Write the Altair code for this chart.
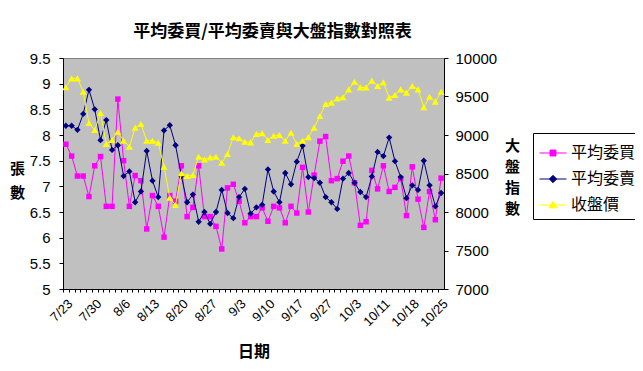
import altair as alt
import pandas as pd

# ---- data ----
dates = [
    "7/23", "7/24", "7/25", "7/26", "7/27",
    "7/30", "7/31", "8/1", "8/2", "8/3",
    "8/6", "8/7", "8/8", "8/9", "8/10",
    "8/13", "8/14", "8/15", "8/16", "8/17",
    "8/20", "8/21", "8/22", "8/23", "8/24",
    "8/27", "8/28", "8/29", "8/30", "8/31",
    "9/3", "9/4", "9/5", "9/6", "9/7",
    "9/10", "9/11", "9/12", "9/13", "9/14",
    "9/17", "9/18", "9/19", "9/20", "9/21",
    "9/27", "9/28", "9/29", "10/1", "10/2",
    "10/3", "10/4", "10/5", "10/8", "10/9",
    "10/11", "10/12", "10/15", "10/16", "10/17",
    "10/18", "10/19", "10/22", "10/23", "10/24",
    "10/25",
]

avg_buy = [
    7.82, 7.59, 7.20, 7.20, 6.80, 7.40, 7.58, 6.61, 6.61, 8.70,
    7.50, 6.61, 7.21, 7.11, 6.17, 6.82, 6.61, 6.01, 6.82, 6.71,
    7.40, 6.41, 6.59, 7.40, 6.41, 6.41, 6.22, 5.78, 6.97, 7.04,
    6.71, 6.29, 6.41, 6.41, 6.58, 6.32, 6.61, 6.58, 6.29, 6.61,
    6.48, 7.37, 6.50, 7.22, 7.88, 7.97, 7.11, 7.15, 7.49, 7.59,
    7.07, 6.24, 6.31, 7.31, 6.95, 7.40, 6.90, 6.98, 7.15, 6.43,
    7.38, 6.75, 6.20, 6.90, 6.35, 7.16,
]

avg_sell = [
    8.18, 8.18, 8.10, 8.41, 8.88, 8.50, 7.90, 8.29, 7.71, 7.80,
    7.20, 7.29, 6.69, 6.90, 7.69, 7.11, 6.79, 8.09, 8.19, 7.80,
    7.20, 6.69, 6.84, 6.31, 6.50, 6.27, 6.50, 6.93, 6.48, 6.38,
    6.79, 6.95, 6.47, 6.59, 6.64, 7.33, 6.90, 6.69, 7.26, 7.04,
    7.48, 7.79, 7.18, 7.16, 7.07, 6.79, 6.69, 6.56, 7.15, 7.26,
    7.07, 6.89, 6.79, 7.19, 7.67, 7.59, 7.95, 7.49, 7.18, 6.77,
    7.02, 6.93, 7.50, 7.02, 6.61, 6.87,
]

close_index = [
    9620, 9736, 9736, 9562, 9156, 9065, 9286, 8883, 8935, 9043,
    8926, 8848, 9095, 9143, 8926, 8926, 8900, 8588, 8186, 8091,
    8503, 8468, 8481, 8718, 8684, 8710, 8718, 8640, 8753, 8970,
    8957, 8913, 8905, 9013, 9022, 8935, 8991, 9000, 8926, 9030,
    8883, 8926, 8970, 9095, 9247, 9403, 9420, 9476, 9490, 9593,
    9692, 9619, 9619, 9706, 9636, 9684, 9485, 9519, 9593, 9550,
    9636, 9593, 9360, 9497, 9433, 9562,
]

series_names = ["平均委買", "平均委賣", "收盤價"]
series_colors = ["#FF00FF", "#000080", "#FFFF00"]
series_shapes = ["square", "diamond", "triangle-up"]
legend_paths = [
    "M-1,0H1M-0.22,-0.22H0.22V0.22H-0.22Z",
    "M-1,0H1M0,-0.27L0.27,0L0,0.27L-0.27,0Z",
    "M-1,0H1M0,-0.27L0.29,0.21L-0.29,0.21Z",
]
left_ticks = [5, 5.5, 6, 6.5, 7, 7.5, 8, 8.5, 9, 9.5]
right_ticks = [7000, 7500, 8000, 8500, 9000, 9500, 10000]

df = pd.DataFrame({"date": dates, "buy": avg_buy, "sell": avg_sell, "close": close_index})

PLOT_W, PLOT_H = 381, 231
step = PLOT_W / len(dates)
shown = dates[::5]
label_expr = "indexof([" + ",".join("'" + d + "'" for d in shown) + "], datum.value) >= 0 ? datum.value : ''"

CJK = "Noto Sans CJK TC"
NUM = "Liberation Sans"

x_enc = alt.X(
    "date:N",
    scale=alt.Scale(type="point", domain=dates, padding=0.5),
    axis=alt.Axis(
        title="日期", labelAngle=-45, labelExpr=label_expr, labelOverlap=False,
        tickSize=3, tickOffset=-step / 2, labelOffset=step / 2,
        domainColor="black", tickColor="black", labelColor="black",
        labelFont=NUM, labelFontSize=13, labelPadding=5,
        titleFont=CJK, titleFontSize=16, titleFontWeight="bold", titleColor="black",
        titleX=PLOT_W / 2, titleY=62, titleBaseline="middle",
    ),
)

y_left = alt.Y(
    "v:Q",
    scale=alt.Scale(domain=[5, 9.5], nice=False, zero=False),
    axis=alt.Axis(
        orient="left", values=left_ticks, format="~g", grid=False,
        tickSize=4, domainColor="black", tickColor="black", labelColor="black",
        labelFont=NUM, labelFontSize=15, labelPadding=9,
        title=["張", "數"], titleAngle=0, titleAlign="center", titleBaseline="middle",
        titleX=-46, titleY=110, titleFont=CJK, titleFontSize=15, titleFontWeight="bold",
        titleColor="black", titleLineHeight=24,
    ),
)

y_right = alt.Y(
    "v:Q",
    scale=alt.Scale(domain=[7000, 10000], nice=False, zero=False),
    axis=alt.Axis(
        orient="right", values=right_ticks, format="d", grid=False,
        tickSize=4, domainColor="black", tickColor="black", labelColor="black",
        labelFont=NUM, labelFontSize=15, labelPadding=7,
        title=["大", "盤", "指", "數"], titleAngle=0, titleAlign="center", titleBaseline="middle",
        titleX=68, titleY=87, titleFont=CJK, titleFontSize=15, titleFontWeight="bold",
        titleColor="black", titleLineHeight=21,
    ),
)

def series_layers(field, color, shape, size, y_enc):
    base = alt.Chart(df).transform_calculate(v="datum." + field)
    line = base.mark_line(color=color, strokeWidth=1).encode(x=x_enc, y=y_enc)
    pts = base.mark_point(filled=True, shape=shape, size=size, color=color, opacity=1).encode(x=x_enc, y=y_enc)
    return [line, pts]

left = alt.layer(
    *series_layers("buy", series_colors[0], series_shapes[0], 30, y_left),
    *series_layers("sell", series_colors[1], series_shapes[1], 40, y_left),
)
right = alt.layer(
    *series_layers("close", series_colors[2], series_shapes[2], 50, y_right),
)

legend_def = alt.Legend(
    title=None, orient="none", legendX=470, legendY=75,
    fillColor="white", strokeColor="black", padding=6,
    labelFont=CJK, labelFontSize=16, labelColor="black", labelOffset=4,
    symbolSize=729, symbolStrokeWidth=1, rowPadding=4,
)
legend_df = pd.DataFrame({"series": series_names})
legend_layer = alt.Chart(legend_df).mark_point(filled=True, size=729, strokeWidth=1, opacity=1).encode(
    fill=alt.Fill("series:N", scale=alt.Scale(domain=series_names, range=series_colors), legend=legend_def),
    stroke=alt.Stroke("series:N", scale=alt.Scale(domain=series_names, range=series_colors), legend=legend_def),
    shape=alt.Shape("series:N", scale=alt.Scale(domain=series_names, range=legend_paths), legend=legend_def),
).transform_filter("false")

chart = alt.layer(left, right, legend_layer).resolve_scale(y="independent").properties(
    width=PLOT_W,
    height=PLOT_H,
    autosize=alt.AutoSizeParams(type="none"),
    padding={"left": 55, "top": 50, "right": 191, "bottom": 72},
    background="white",
    view=alt.ViewBackground(fill="#C0C0C0", stroke="#808080", strokeWidth=1),
    title=alt.TitleParams(
        text="平均委買/平均委賣與大盤指數對照表", font=CJK, fontSize=17, fontWeight="bold",
        color="black", anchor="middle", dx=19, offset=10,
    ),
).configure_view(fill="#C0C0C0", stroke="#808080", strokeWidth=1)

chart.save("out.html", embed_options={"renderer": "svg", "actions": False})
